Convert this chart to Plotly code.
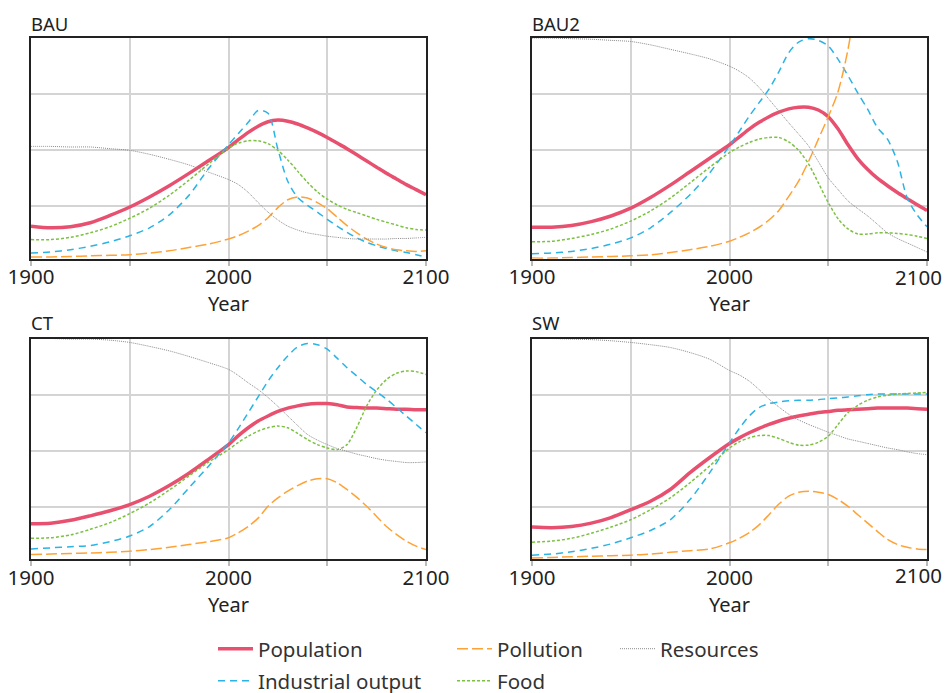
import plotly.graph_objects as go

YEARS = [1900, 1910, 1920, 1930, 1940, 1950, 1960, 1970, 1980, 1990, 2000,
         2005, 2010, 2015, 2020, 2025, 2030, 2035, 2040, 2045, 2050,
         2055, 2060, 2065, 2070, 2075, 2080, 2085, 2090, 2095, 2100]

SCENARIOS = ["BAU", "BAU2", "CT", "SW"]
SERIES = ["Population", "Industrial output", "Pollution", "Food", "Resources"]
TICK_YEARS = [1900, 1950, 2000, 2050, 2100]
TICK_TEXT = ["1900", "", "2000", "", "2100"]

# ---- BAU ----
BAU_POP = [0.65, 0.62, 0.64, 0.71, 0.84, 0.99, 1.17, 1.37, 1.59, 1.82, 2.05,
           2.19, 2.32, 2.43, 2.51, 2.54, 2.52, 2.47, 2.40, 2.32, 2.23,
           2.13, 2.03, 1.92, 1.81, 1.70, 1.59, 1.49, 1.39, 1.30, 1.21]
BAU_IND = [0.17, 0.19, 0.23, 0.29, 0.37, 0.48, 0.62, 0.85, 1.20, 1.68, 2.10,
           2.30, 2.50, 2.71, 2.66, 2.02, 1.45, 1.16, 1.02, 0.90, 0.77,
           0.65, 0.54, 0.44, 0.36, 0.30, 0.25, 0.21, 0.18, 0.14, 0.10]
BAU_POL = [0.10, 0.10, 0.11, 0.12, 0.13, 0.14, 0.17, 0.21, 0.27, 0.33, 0.42,
           0.48, 0.56, 0.66, 0.80, 0.98, 1.12, 1.17, 1.15, 1.07, 0.96,
           0.81, 0.66, 0.53, 0.42, 0.33, 0.27, 0.23, 0.21, 0.20, 0.21]
BAU_FOOD = [0.41, 0.41, 0.45, 0.53, 0.64, 0.79, 0.97, 1.20, 1.47, 1.76, 2.04,
            2.13, 2.17, 2.17, 2.12, 2.00, 1.83, 1.63, 1.43, 1.26, 1.13,
            1.03, 0.95, 0.89, 0.83, 0.77, 0.72, 0.67, 0.62, 0.59, 0.58]
BAU_RES = [2.07, 2.07, 2.06, 2.06, 2.03, 2.00, 1.93, 1.84, 1.74, 1.61, 1.48,
           1.39, 1.25, 1.07, 0.90, 0.76, 0.65, 0.58, 0.53, 0.50, 0.47,
           0.45, 0.43, 0.42, 0.42, 0.42, 0.42, 0.43, 0.43, 0.44, 0.45]

# ---- BAU2 ----
BAU2_POP = [0.63, 0.63, 0.66, 0.73, 0.83, 0.97, 1.16, 1.38, 1.62, 1.86, 2.10,
            2.24, 2.38, 2.50, 2.60, 2.68, 2.74, 2.77, 2.77, 2.72, 2.60,
            2.38, 2.10, 1.85, 1.66, 1.50, 1.37, 1.25, 1.14, 1.03, 0.93]
BAU2_IND = [0.16, 0.17, 0.20, 0.25, 0.33, 0.44, 0.62, 0.89, 1.21, 1.60, 2.08,
            2.34, 2.61, 2.85, 3.09, 3.40, 3.74, 3.93, 3.99, 3.96, 3.86,
            3.62, 3.33, 3.02, 2.73, 2.40, 2.20, 1.80, 1.15, 0.85, 0.64]
BAU2_POL = [0.08, 0.08, 0.09, 0.10, 0.11, 0.12, 0.14, 0.18, 0.23, 0.29, 0.38,
            0.45, 0.53, 0.63, 0.76, 0.93, 1.18, 1.45, 1.80, 2.20, 2.60,
            3.05, 3.80, 4.90, 6.00, None, None, None, None, None, None]
BAU2_FOOD = [0.37, 0.38, 0.43, 0.50, 0.60, 0.74, 0.92, 1.15, 1.42, 1.70, 1.96,
             2.06, 2.14, 2.20, 2.23, 2.23, 2.15, 2.00, 1.76, 1.42, 1.07,
             0.78, 0.60, 0.51, 0.51, 0.53, 0.53, 0.52, 0.50, 0.47, 0.43]
BAU2_RES = [4.00, 4.00, 3.99, 3.98, 3.96, 3.94, 3.88, 3.80, 3.72, 3.63, 3.50,
            3.41, 3.29, 3.12, 2.91, 2.70, 2.49, 2.29, 2.08, 1.80, 1.51,
            1.30, 1.10, 0.96, 0.83, 0.68, 0.53, 0.43, 0.35, 0.27, 0.19]

# ---- CT ----
CT_POP = [0.70, 0.71, 0.76, 0.84, 0.93, 1.04, 1.19, 1.38, 1.60, 1.85, 2.11,
          2.27, 2.41, 2.53, 2.62, 2.70, 2.76, 2.80, 2.83, 2.84, 2.84,
          2.82, 2.78, 2.77, 2.76, 2.76, 2.75, 2.74, 2.74, 2.73, 2.73]
CT_IND = [0.25, 0.27, 0.29, 0.31, 0.38, 0.48, 0.65, 0.95, 1.34, 1.73, 2.14,
          2.40, 2.68, 2.96, 3.24, 3.48, 3.69, 3.85, 3.91, 3.89, 3.81,
          3.65, 3.48, 3.33, 3.18, 3.05, 2.92, 2.77, 2.62, 2.47, 2.32]
CT_POL = [0.15, 0.16, 0.17, 0.18, 0.19, 0.21, 0.24, 0.28, 0.33, 0.38, 0.45,
          0.54, 0.65, 0.80, 1.01, 1.16, 1.28, 1.38, 1.46, 1.50, 1.50,
          1.43, 1.31, 1.17, 1.01, 0.83, 0.65, 0.51, 0.39, 0.30, 0.24]
CT_FOOD = [0.44, 0.45, 0.50, 0.60, 0.72, 0.88, 1.07, 1.30, 1.55, 1.80, 2.02,
           2.15, 2.26, 2.35, 2.41, 2.44, 2.41, 2.31, 2.20, 2.11, 2.05,
           2.02, 2.11, 2.42, 2.80, 3.08, 3.27, 3.38, 3.42, 3.41, 3.36]
CT_RES = [4.00, 4.00, 3.99, 3.99, 3.97, 3.93, 3.86, 3.78, 3.68, 3.57, 3.45,
          3.34, 3.21, 3.09, 2.95, 2.79, 2.62, 2.45, 2.29, 2.19, 2.11,
          2.04, 1.99, 1.94, 1.90, 1.86, 1.83, 1.81, 1.79, 1.79, 1.80]

# ---- SW ----
SW_POP = [0.64, 0.63, 0.65, 0.71, 0.81, 0.95, 1.10, 1.31, 1.61, 1.88, 2.13,
          2.23, 2.32, 2.40, 2.47, 2.53, 2.58, 2.62, 2.65, 2.68, 2.70,
          2.72, 2.73, 2.74, 2.75, 2.76, 2.76, 2.76, 2.76, 2.75, 2.74]
SW_IND = [0.14, 0.16, 0.20, 0.26, 0.34, 0.45, 0.58, 0.77, 1.13, 1.61, 2.14,
          2.40, 2.62, 2.77, 2.84, 2.87, 2.89, 2.90, 2.90, 2.91, 2.93,
          2.94, 2.96, 2.98, 3.00, 3.01, 3.01, 3.01, 3.01, 3.01, 3.01]
SW_POL = [0.09, 0.10, 0.11, 0.12, 0.13, 0.14, 0.16, 0.19, 0.22, 0.25, 0.36,
          0.44, 0.54, 0.68, 0.86, 1.05, 1.19, 1.26, 1.28, 1.26, 1.22,
          1.13, 1.01, 0.86, 0.71, 0.56, 0.42, 0.33, 0.28, 0.25, 0.24]
SW_FOOD = [0.37, 0.39, 0.44, 0.53, 0.64, 0.77, 0.95, 1.16, 1.43, 1.73, 2.05,
           2.16, 2.23, 2.27, 2.27, 2.22, 2.15, 2.10, 2.10, 2.15, 2.26,
           2.47, 2.68, 2.81, 2.90, 2.96, 2.99, 3.01, 3.02, 3.03, 3.04]
SW_RES = [4.00, 4.00, 3.99, 3.98, 3.96, 3.93, 3.89, 3.84, 3.75, 3.63, 3.43,
          3.35, 3.24, 3.09, 2.92, 2.78, 2.65, 2.55, 2.47, 2.40, 2.33,
          2.27, 2.21, 2.17, 2.13, 2.09, 2.05, 2.02, 1.98, 1.95, 1.93]

DATA = {
    "BAU": [BAU_POP, BAU_IND, BAU_POL, BAU_FOOD, BAU_RES],
    "BAU2": [BAU2_POP, BAU2_IND, BAU2_POL, BAU2_FOOD, BAU2_RES],
    "CT": [CT_POP, CT_IND, CT_POL, CT_FOOD, CT_RES],
    "SW": [SW_POP, SW_IND, SW_POL, SW_FOOD, SW_RES],
}

STYLES = [
    dict(color="#e8506f", width=3.5, dash="solid"),
    dict(color="#2ab4e6", width=1.5, dash="7px,5px"),
    dict(color="#ffa236", width=1.5, dash="11px,4px"),
    dict(color="#7cc142", width=1.5, dash="3px,2px"),
    dict(color="#8a8a8a", width=1.0, dash="1px,1px"),
]

OFF = 8                     # body margin of the page
W, H = 952 - 2 * OFF, 693
SY = 693 / (693 + 2 * OFF)  # vertical fit of the page into the photo
# plot-area boxes as seen in the picture (left, top, right, bottom)
BOXES = [(31, 38, 426, 259), (532, 38, 927, 259),
         (31, 339, 426, 560), (532, 339, 927, 560)]
TITLE_Y = [23, 23, 323, 323]
# right-hand panels keep their last tick label inside the page edge
EDGE_LABEL_Y = {1: 277, 3: 576}


def fx(px):
    return (px - OFF) / W


def fig_y(py):
    return py / SY - OFF


def fy(py):
    return 1 - fig_y(py) / H


FONT = "Noto Sans"
TEXT_COLOR = "#222222"

fig = go.Figure()

LEGEND_NAMES = ["legend", "legend2", "legend3", "legend4", "legend5"]
for i, scen in enumerate(SCENARIOS):
    ax = "" if i == 0 else str(i + 1)
    for j, name in enumerate(SERIES):
        fig.add_trace(go.Scatter(
            x=YEARS, y=DATA[scen][j], mode="lines", name=name,
            line=dict(shape="spline", smoothing=0.8, **STYLES[j]),
            xaxis="x" + ax, yaxis="y" + ax,
            showlegend=(i == 0), legend=LEGEND_NAMES[j],
            hoverinfo="skip",
        ))

layout = dict(
    width=W, height=H,
    margin=dict(l=0, r=0, t=0, b=0),
    paper_bgcolor="white", plot_bgcolor="white",
    font=dict(family=FONT, size=18, color=TEXT_COLOR),
    showlegend=True,
)

annotations = []
for i, (l, t, r, b) in enumerate(BOXES):
    ax = "" if i == 0 else str(i + 1)
    ticktext = list(TICK_TEXT)
    if i in EDGE_LABEL_Y:
        ticktext[-1] = ""
        annotations.append(dict(
            text=TICK_TEXT[-1], xref="paper", yref="paper",
            x=1.0, y=fy(EDGE_LABEL_Y[i]), xanchor="right", yanchor="middle",
            showarrow=False, font=dict(size=20.5, color=TEXT_COLOR),
        ))
    layout["xaxis" + ax] = dict(
        domain=[fx(l), fx(r)], anchor="y" + ax,
        range=[1900, 2100],
        tickvals=TICK_YEARS, ticktext=ticktext,
        ticks="outside", ticklen=5, tickcolor="#bbbbbb", tickwidth=1.5,
        ticklabelstandoff=-6, ticklabeloverflow="allow",
        showgrid=True, gridcolor="#d4d4d4", gridwidth=1.5,
        showline=True, linecolor="#222222", linewidth=2, mirror=True,
        zeroline=False, automargin=False,
        tickfont=dict(size=20.5, color=TEXT_COLOR),
        title=dict(text="Year", font=dict(size=20, color=TEXT_COLOR), standoff=0),
    )
    layout["yaxis" + ax] = dict(
        domain=[fy(b), fy(t)], anchor="x" + ax,
        range=[0.07, 4.0],
        tickvals=[1, 2, 3], showticklabels=False, ticks="",
        showgrid=True, gridcolor="#d4d4d4", gridwidth=1.5,
        showline=True, linecolor="#222222", linewidth=2, mirror=True,
        zeroline=False, automargin=False,
    )
    annotations.append(dict(
        text=SCENARIOS[i], xref="paper", yref="paper",
        x=fx(l - 2), y=fy(TITLE_Y[i]), xanchor="left", yanchor="middle",
        showarrow=False, font=dict(size=18.5, color=TEXT_COLOR),
    ))
layout["annotations"] = annotations

# legend boxes: (left x, middle y) in figure pixels
LEG_POS = [(205, 657), (205, 690), (444, 657), (444, 690), (607, 657)]
for j, key in enumerate(LEGEND_NAMES):
    px, py = LEG_POS[j]
    layout[key] = dict(
        x=px / W, y=1 - py / H, xanchor="left", yanchor="middle",
        orientation="v", itemwidth=35, bgcolor="rgba(0,0,0,0)",
        font=dict(size=20.5, color="#333333", family=FONT),
        borderwidth=0,
    )

fig.update_layout(**layout)
fig.write_html("out.html")
